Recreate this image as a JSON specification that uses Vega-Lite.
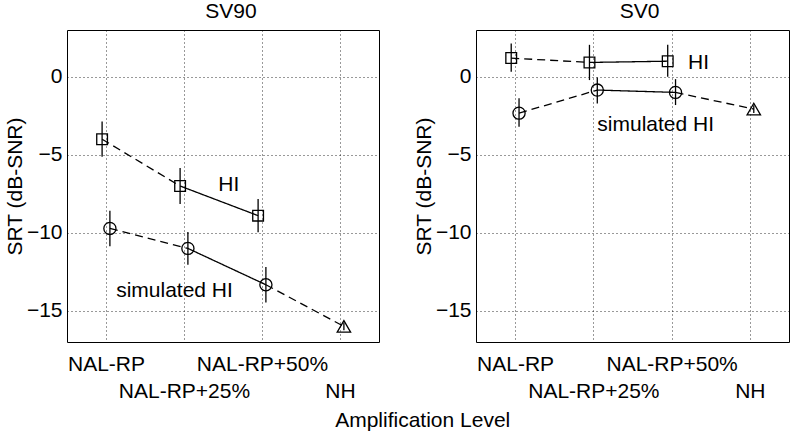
{
  "$schema": "https://vega.github.io/schema/vega-lite/v6.json",
  "padding": {"left": 3, "top": 0, "right": 0, "bottom": 0},
  "background": "white",
  "spacing": 32,
  "config": {
    "font": "Liberation Sans",
    "view": {"stroke": "black", "strokeWidth": 1},
    "axis": {
      "grid": true, "gridDash": [1, 3], "gridColor": "#000", "gridOpacity": 0.8, "gridWidth": 1,
      "domain": false, "ticks": false,
      "labelFont": "Liberation Sans", "labelFontSize": 21, "labelColor": "#000",
      "titleFont": "Liberation Sans", "titleFontSize": 21, "titleFontWeight": "normal", "titleColor": "#000"
    },
    "axisX": {"labelPadding": 11, "labelLineHeight": 27, "labelOverlap": false, "labelFlush": false, "labelAlign": "center", "labelBaseline": "top"},
    "axisY": {"labelPadding": 5, "titlePadding": 1},
    "title": {"font": "Liberation Sans", "fontSize": 21, "fontWeight": "normal", "color": "#000"}
  },
  "title": {"text": "Amplification Level", "orient": "bottom", "anchor": "middle", "dx": 26, "offset": 8, "fontSize": 21},
  "datasets": {
    "pts": [
      {"panel": "SV90", "group": "HI", "marker": "square", "x": 0.95, "y": -4.0, "lo": -5.13, "hi": -2.87},
      {"panel": "SV90", "group": "HI", "marker": "square", "x": 1.95, "y": -7.0, "lo": -8.15, "hi": -5.85},
      {"panel": "SV90", "group": "HI", "marker": "square", "x": 2.95, "y": -8.9, "lo": -9.97, "hi": -7.83},
      {"panel": "SV90", "group": "simulated HI", "marker": "circle", "x": 1.05, "y": -9.72, "lo": -10.86, "hi": -8.58},
      {"panel": "SV90", "group": "simulated HI", "marker": "circle", "x": 2.05, "y": -11.0, "lo": -12.05, "hi": -9.95},
      {"panel": "SV90", "group": "simulated HI", "marker": "circle", "x": 3.05, "y": -13.33, "lo": -14.47, "hi": -12.19},
      {"panel": "SV90", "group": "NH", "marker": "triangle-up", "x": 4.05, "y": -16.0, "lo": -16.25, "hi": -15.75},
      {"panel": "SV0", "group": "HI", "marker": "square", "x": 0.95, "y": 1.2, "lo": 0.32, "hi": 2.13},
      {"panel": "SV0", "group": "HI", "marker": "square", "x": 1.95, "y": 0.92, "lo": -0.21, "hi": 2.05},
      {"panel": "SV0", "group": "HI", "marker": "square", "x": 2.95, "y": 1.0, "lo": 0.0, "hi": 2.05},
      {"panel": "SV0", "group": "simulated HI", "marker": "circle", "x": 1.05, "y": -2.33, "lo": -3.2, "hi": -1.37},
      {"panel": "SV0", "group": "simulated HI", "marker": "circle", "x": 2.05, "y": -0.85, "lo": -1.71, "hi": -0.04},
      {"panel": "SV0", "group": "simulated HI", "marker": "circle", "x": 3.05, "y": -1.0, "lo": -1.81, "hi": -0.15},
      {"panel": "SV0", "group": "NH", "marker": "triangle-up", "x": 4.05, "y": -2.07, "lo": -2.32, "hi": -1.82}
    ],
    "segs": [
      {"panel": "SV90", "group": "HI", "style": "dashed", "x": 0.95, "y": -4.0, "xe": 1.95, "ye": -7.0},
      {"panel": "SV90", "group": "HI", "style": "solid", "x": 1.95, "y": -7.0, "xe": 2.95, "ye": -8.9},
      {"panel": "SV90", "group": "simulated HI", "style": "dashed", "x": 1.05, "y": -9.72, "xe": 2.05, "ye": -11.0},
      {"panel": "SV90", "group": "simulated HI", "style": "solid", "x": 2.05, "y": -11.0, "xe": 3.05, "ye": -13.33},
      {"panel": "SV90", "group": "simulated HI", "style": "dashed", "x": 3.05, "y": -13.33, "xe": 4.05, "ye": -16.0},
      {"panel": "SV0", "group": "HI", "style": "dashed", "x": 0.95, "y": 1.2, "xe": 1.95, "ye": 0.92},
      {"panel": "SV0", "group": "HI", "style": "solid", "x": 1.95, "y": 0.92, "xe": 2.95, "ye": 1.0},
      {"panel": "SV0", "group": "simulated HI", "style": "dashed", "x": 1.05, "y": -2.33, "xe": 2.05, "ye": -0.85},
      {"panel": "SV0", "group": "simulated HI", "style": "solid", "x": 2.05, "y": -0.85, "xe": 3.05, "ye": -1.0},
      {"panel": "SV0", "group": "simulated HI", "style": "dashed", "x": 3.05, "y": -1.0, "xe": 4.05, "ye": -2.07}
    ],
    "notes": [
      {"panel": "SV90", "label": "HI", "x": 2.44, "y": -7.35},
      {"panel": "SV90", "label": "simulated HI", "x": 1.13, "y": -14.1},
      {"panel": "SV0", "label": "HI", "x": 3.21, "y": 0.49},
      {"panel": "SV0", "label": "simulated HI", "x": 2.05, "y": -3.46}
    ]
  },
  "hconcat": [
    {
      "width": 312, "height": 312,
      "title": {"text": "SV90", "dx": 8, "offset": 8},
      "layer": [
        {
          "data": {"name": "segs"},
          "transform": [{"filter": "datum.panel == 'SV90'"}],
          "mark": {"type": "rule", "color": "black", "strokeWidth": 1.3},
          "encoding": {
            "x": {"field": "x", "type": "quantitative", "title": null, "scale": {"domain": [0.5, 4.5], "nice": false, "zero": false},
                  "axis": {"values": [1, 2, 3, 4], "labelExpr": "datum.value == 1 ? 'NAL-RP' : datum.value == 2 ? ['', 'NAL-RP+25%'] : datum.value == 3 ? 'NAL-RP+50%' : ['', 'NH']"}},
            "y": {"field": "y", "type": "quantitative", "title": "SRT (dB-SNR)", "scale": {"domain": [-17, 3], "nice": false, "zero": false},
                  "axis": {"values": [-15, -10, -5, 0]}},
            "x2": {"field": "xe"},
            "y2": {"field": "ye"},
            "strokeDash": {"field": "style", "type": "nominal", "scale": {"domain": ["solid", "dashed"], "range": [[1, 0], [8, 5]]}, "legend": null}
          }
        },
        {
          "data": {"name": "pts"},
          "transform": [{"filter": "datum.panel == 'SV90'"}],
          "mark": {"type": "rule", "color": "black", "strokeWidth": 1.3},
          "encoding": {
            "x": {"field": "x", "type": "quantitative", "title": null},
            "y": {"field": "lo", "type": "quantitative", "title": "SRT (dB-SNR)"},
            "y2": {"field": "hi"}
          }
        },
        {
          "data": {"name": "pts"},
          "transform": [{"filter": "datum.panel == 'SV90'"}],
          "mark": {"type": "point", "filled": false, "color": "black", "strokeWidth": 1.3, "opacity": 1},
          "encoding": {
            "x": {"field": "x", "type": "quantitative", "title": null},
            "y": {"field": "y", "type": "quantitative", "title": "SRT (dB-SNR)"},
            "shape": {"field": "marker", "type": "nominal", "scale": {"domain": ["square", "circle", "triangle-up"], "range": ["square", "circle", "triangle-up"]}, "legend": null},
            "size": {"field": "marker", "type": "ordinal", "scale": {"domain": ["square", "circle", "triangle-up"], "range": [115, 180, 260]}, "legend": null}
          }
        },
        {
          "data": {"name": "notes"},
          "transform": [{"filter": "datum.panel == 'SV90'"}],
          "mark": {"type": "text", "align": "left", "baseline": "alphabetic", "fontSize": 21, "font": "Liberation Sans", "color": "black"},
          "encoding": {
            "x": {"field": "x", "type": "quantitative", "title": null},
            "y": {"field": "y", "type": "quantitative", "title": "SRT (dB-SNR)"},
            "text": {"field": "label"}
          }
        }
      ]
    },
    {
      "width": 313, "height": 312,
      "title": {"text": "SV0", "dx": 7, "offset": 8},
      "layer": [
        {
          "data": {"name": "segs"},
          "transform": [{"filter": "datum.panel == 'SV0'"}],
          "mark": {"type": "rule", "color": "black", "strokeWidth": 1.3},
          "encoding": {
            "x": {"field": "x", "type": "quantitative", "title": null, "scale": {"domain": [0.5, 4.5], "nice": false, "zero": false},
                  "axis": {"values": [1, 2, 3, 4], "labelExpr": "datum.value == 1 ? 'NAL-RP' : datum.value == 2 ? ['', 'NAL-RP+25%'] : datum.value == 3 ? 'NAL-RP+50%' : ['', 'NH']"}},
            "y": {"field": "y", "type": "quantitative", "title": "SRT (dB-SNR)", "scale": {"domain": [-17, 3], "nice": false, "zero": false},
                  "axis": {"values": [-15, -10, -5, 0]}},
            "x2": {"field": "xe"},
            "y2": {"field": "ye"},
            "strokeDash": {"field": "style", "type": "nominal", "scale": {"domain": ["solid", "dashed"], "range": [[1, 0], [8, 5]]}, "legend": null}
          }
        },
        {
          "data": {"name": "pts"},
          "transform": [{"filter": "datum.panel == 'SV0'"}],
          "mark": {"type": "rule", "color": "black", "strokeWidth": 1.3},
          "encoding": {
            "x": {"field": "x", "type": "quantitative", "title": null},
            "y": {"field": "lo", "type": "quantitative", "title": "SRT (dB-SNR)"},
            "y2": {"field": "hi"}
          }
        },
        {
          "data": {"name": "pts"},
          "transform": [{"filter": "datum.panel == 'SV0'"}],
          "mark": {"type": "point", "filled": false, "color": "black", "strokeWidth": 1.3, "opacity": 1},
          "encoding": {
            "x": {"field": "x", "type": "quantitative", "title": null},
            "y": {"field": "y", "type": "quantitative", "title": "SRT (dB-SNR)"},
            "shape": {"field": "marker", "type": "nominal", "scale": {"domain": ["square", "circle", "triangle-up"], "range": ["square", "circle", "triangle-up"]}, "legend": null},
            "size": {"field": "marker", "type": "ordinal", "scale": {"domain": ["square", "circle", "triangle-up"], "range": [115, 180, 260]}, "legend": null}
          }
        },
        {
          "data": {"name": "notes"},
          "transform": [{"filter": "datum.panel == 'SV0'"}],
          "mark": {"type": "text", "align": "left", "baseline": "alphabetic", "fontSize": 21, "font": "Liberation Sans", "color": "black"},
          "encoding": {
            "x": {"field": "x", "type": "quantitative", "title": null},
            "y": {"field": "y", "type": "quantitative", "title": "SRT (dB-SNR)"},
            "text": {"field": "label"}
          }
        }
      ]
    }
  ]
}
